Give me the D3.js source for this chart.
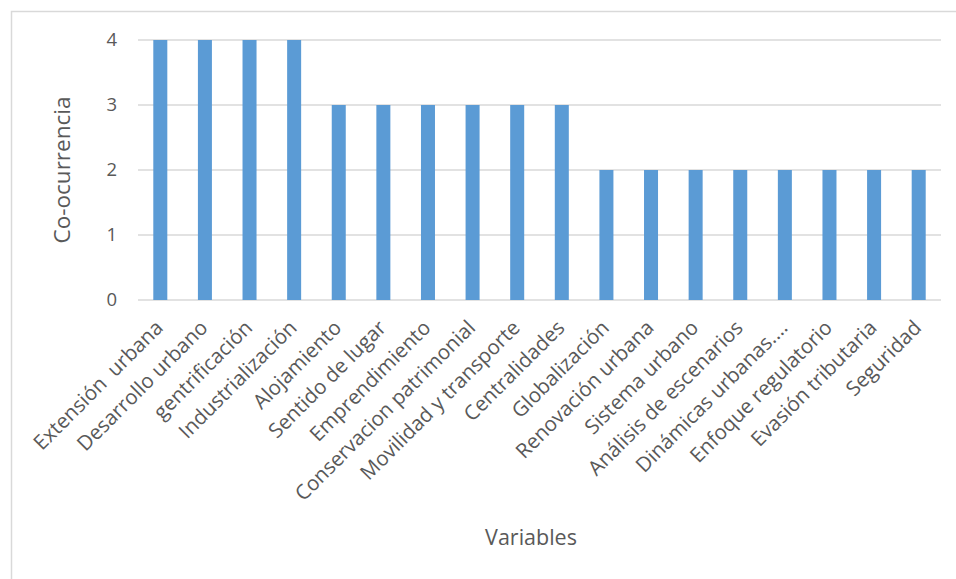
<!DOCTYPE html>
<html><head><meta charset="utf-8">
<script src="https://cdn.jsdelivr.net/npm/d3@7"></script>
<style>body{margin:0;background:#fff}svg text{font-family:"Open Sans",sans-serif;fill:#595959}</style>
</head><body>
<svg id="c" width="956" height="579"></svg>
<script>
const categories = ["Extensión  urbana","Desarrollo urbano","gentrificación","Industrialización","Alojamiento","Sentido de lugar","Emprendimiento","Conservacion patrimonial","Movilidad y transporte","Centralidades","Globalización","Renovación urbana","Sistema urbano","Análisis de escenarios","Dinámicas urbanas....","Enfoque regulatorio","Evasión tributaria","Seguridad"];
const values = [4,4,4,4,3,3,3,3,3,3,2,2,2,2,2,2,2,2];
const yTicks = [0,1,2,3,4];
const yTitle = "Co-ocurrencia";
const xTitle = "Variables";

const svg = d3.select("#c");
svg.append("rect").attr("x",11.5).attr("y",11.5).attr("width",960).attr("height",580)
  .attr("fill","none").attr("stroke","#d9d9d9").attr("stroke-width",1.5);

const x = d3.scaleBand().domain(categories).range([138,941]).paddingInner(0.686).paddingOuter(0.343);
const y = d3.scaleLinear().domain([0,4]).range([300,40]);

const grid = svg.append("g");
grid.selectAll("line").data(yTicks).join("line")
  .attr("x1",138).attr("x2",941).attr("y1",d=>y(d)).attr("y2",d=>y(d))
  .attr("stroke","#d9d9d9").attr("stroke-width",1.5);

const yAxis = svg.append("g").attr("transform","translate(138,0)")
  .call(d3.axisLeft(y).tickValues(yTicks).tickFormat(d3.format("d")).tickSize(0).tickPadding(21));
yAxis.select(".domain").remove();
yAxis.selectAll("text").attr("font-size",18.5).attr("font-family","Open Sans").attr("fill","#595959");

svg.append("g").selectAll("rect").data(categories).join("rect")
  .attr("x",d=>x(d)).attr("width",x.bandwidth())
  .attr("y",(d,i)=>y(values[i])).attr("height",(d,i)=>y(0)-y(values[i]))
  .attr("fill","#5b9bd5");

const xAxis = svg.append("g").attr("transform","translate(0,300)")
  .call(d3.axisBottom(x).tickSize(0).tickPadding(0));
xAxis.select(".domain").remove();
xAxis.selectAll("text")
  .attr("font-size",20.5).attr("font-family","Open Sans").attr("fill","#595959")
  .attr("text-anchor","end").attr("dy",0).attr("y",0)
  .attr("transform","translate(4,29) rotate(-45)")
  .style("white-space","pre");

svg.append("text").attr("transform","translate(70,170) rotate(-90)")
  .attr("text-anchor","middle").attr("font-size",22.5).text(yTitle);
svg.append("text").attr("x",531).attr("y",545)
  .attr("text-anchor","middle").attr("font-size",21.5).text(xTitle);
</script>
</body></html>
